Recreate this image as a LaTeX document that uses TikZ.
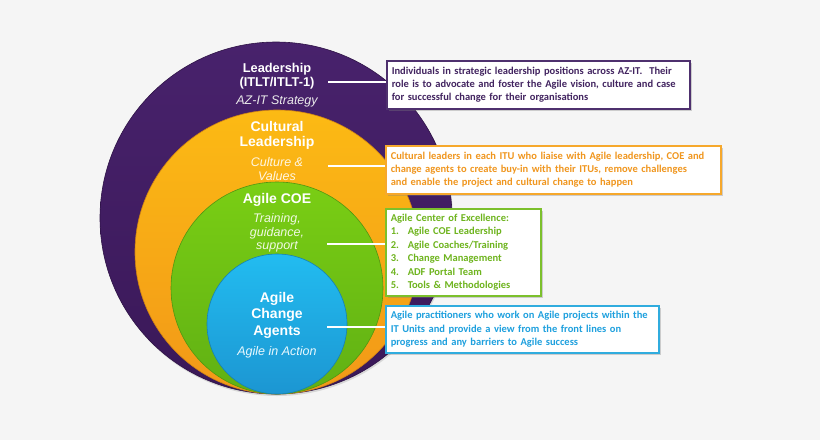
\documentclass[tikz,border=0pt]{standalone}
\usepackage{fontspec}
\setmainfont{Liberation Sans}
\newfontfamily\calib{Carlito}
\usetikzlibrary{shadows}
\definecolor{bg}{RGB}{245,245,245}
\definecolor{purpA}{RGB}{72,34,108}
\definecolor{purpB}{RGB}{58,24,88}
\definecolor{oraA}{RGB}{252,186,20}
\definecolor{oraB}{RGB}{242,152,24}
\definecolor{grnA}{RGB}{122,206,20}
\definecolor{grnB}{RGB}{96,176,20}
\definecolor{bluA}{RGB}{34,188,240}
\definecolor{bluB}{RGB}{28,150,210}
\definecolor{pbox}{RGB}{78,48,110}
\definecolor{ptxt}{RGB}{66,36,96}
\definecolor{obox}{RGB}{246,168,44}
\definecolor{otxt}{RGB}{240,150,30}
\definecolor{gbox}{RGB}{124,192,44}
\definecolor{gtxt}{RGB}{110,180,30}
\definecolor{bbox}{RGB}{48,172,222}
\definecolor{btxt}{RGB}{30,160,222}
\begin{document}
\begin{tikzpicture}[x=1pt,y=-1pt,
  ring/.style={circle,inner sep=0pt,outer sep=0pt,line width=0.6pt},
  title/.style={text=white,font=\bfseries\fontsize{13.5}{14}\selectfont,align=center,inner sep=0pt},
  sub/.style={text=white!92!black,font=\itshape\fontsize{12.5}{13.5}\selectfont,align=center,inner sep=0pt},
  conn/.style={white,line width=1.6pt},
  infobox/.style={draw,fill=white,line width=1.5pt,anchor=north west,align=left,inner xsep=5pt,inner ysep=4pt,
    font=\calib\bfseries\fontsize{10.5}{13.4}\selectfont,
    drop shadow={shadow xshift=2pt,shadow yshift=-2pt,opacity=0.35}}]
\fill[bg] (0,0) rectangle (820,440);
\useasboundingbox (0,0) rectangle (820,440);

% circles
\node[ring,minimum size=352pt,top color=purpA,bottom color=purpB,draw=purpB!80!black,
  drop shadow={shadow xshift=1pt,shadow yshift=-2pt,opacity=0.25}] (cLead) at (276,218) {};
\node[ring,minimum size=284pt,top color=oraA,bottom color=oraB,draw=oraB!85!black] (cCult) at (277,252) {};
\node[ring,minimum size=212pt,top color=grnA,bottom color=grnB,draw=grnB!85!black] (cCoe) at (277,288) {};
\node[ring,minimum size=140pt,top color=bluA,bottom color=bluB,draw=bluB!85!black] (cAgt) at (277,324) {};

% circle texts
\node[title,font=\bfseries\fontsize{12.8}{14}\selectfont] (tLead) at (277,76) {Leadership\\(ITLT/ITLT-1)};
\node[sub] (sLead) at (277,101) {AZ-IT Strategy};
\node[title,font=\bfseries\fontsize{14}{15}\selectfont] (tCult) at (277,135.5) {Cultural\\Leadership};
\node[sub,text=white!88!oraA] (sCult) at (277,169) {Culture \&\\Values};
\node[title,font=\bfseries\fontsize{14}{15}\selectfont] (tCoe) at (277,200) {Agile COE};
\node[sub,text=white!88!grnA] (sCoe) at (277,233) {Training,\\guidance,\\support};
\node[title,font=\bfseries\fontsize{14}{16.5}\selectfont] (tAgt) at (277,315) {Agile\\Change\\Agents};
\node[sub,text=white!90!bluA] (sAgt) at (277,352) {Agile in Action};

% info boxes
\node[infobox,draw=pbox,text=ptxt,text width=293pt,minimum height=48pt] (bLead) at (386,60)
  {Individuals in strategic leadership positions across AZ-IT.\ \ Their\\
   role is to advocate and foster the Agile vision, culture and case\\
   for successful change for their organisations};
\node[infobox,draw=obox,text=otxt,text width=325pt,minimum height=48pt] (bCult) at (385,145)
  {Cultural leaders in each ITU who liaise with Agile leadership, COE and\\
   change agents to create buy-in with their ITUs, remove challenges\\
   and enable the project and cultural change to happen};
\node[infobox,draw=gbox,text=gtxt,text width=145pt,minimum height=87pt] (bCoe) at (385,208)
  {Agile Center of Excellence:\\
   \makebox[17pt][l]{1.}Agile COE Leadership\\
   \makebox[17pt][l]{2.}Agile Coaches/Training\\
   \makebox[17pt][l]{3.}Change Management\\
   \makebox[17pt][l]{4.}ADF Portal Team\\
   \makebox[17pt][l]{5.}Tools \& Methodologies};
\node[infobox,draw=bbox,text=btxt,text width=263pt,minimum height=47pt] (bAgt) at (385,305)
  {Agile practitioners who work on Agile projects within the\\
   IT Units and provide a view from the front lines on\\
   progress and any barriers to Agile success};

% connectors
\coordinate (pLead) at (328,82);
\coordinate (pCult) at (328,166);
\coordinate (pCoe) at (327,244);
\coordinate (pAgt) at (327,327);
\draw[conn] (pLead) -- (pLead -| bLead.west);
\draw[conn] (pCult) -- (pCult -| bCult.west);
\draw[conn] (pCoe) -- (pCoe -| bCoe.west);
\draw[conn] (pAgt) -- (pAgt -| bAgt.west);
\end{tikzpicture}
\end{document}
